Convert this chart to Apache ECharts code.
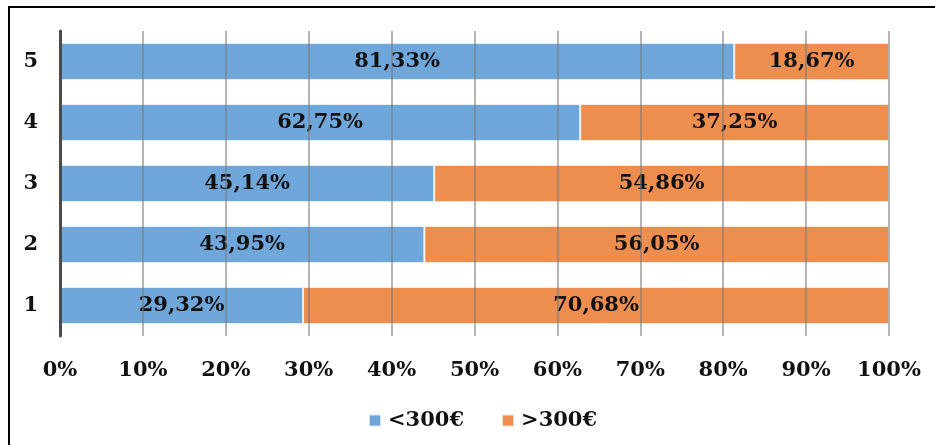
<!DOCTYPE html>
<html>
<head>
<meta charset="utf-8">
<script src="https://cdn.jsdelivr.net/npm/echarts@6/dist/echarts.min.js"></script>
<style>
  html, body { margin: 0; padding: 0; background: #fff; }
  #chart { width: 935px; height: 445px; }
</style>
</head>
<body>
<div id="chart"></div>
<script>
// Categories from bottom (1) to top (5)
var categories = ['1', '2', '3', '4', '5'];
// Share of each group, in percent
var below300 = [29.32, 43.95, 45.14, 62.75, 81.33];
var above300 = [70.68, 56.05, 54.86, 37.25, 18.67];
var seriesNames = ['<300€', '>300€'];
var xTicks = [0, 10, 20, 30, 40, 50, 60, 70, 80, 90, 100];

var FONT = '"DejaVu Serif", serif';

function pct(v) {
  return v.toFixed(2).replace('.', ',') + '%';
}

var chart = echarts.init(document.getElementById('chart'), null, { renderer: 'canvas' });

function barSeries(name, values, color) {
  return {
    name: name,
    type: 'bar',
    stack: 'total',
    barWidth: '61%',
    data: values,
    itemStyle: { color: color, borderColor: 'rgba(255,255,255,0.7)', borderWidth: 1 },
    label: {
      show: true,
      position: 'inside',
      formatter: function (p) { return pct(p.value); },
      color: '#111',
      fontFamily: FONT,
      fontWeight: 'bold',
      fontSize: 21
    }
  };
}

chart.setOption({
  animation: false,
  grid: { left: 60, right: 46, top: 31, bottom: 109, containLabel: false },
  legend: {
    bottom: 9,
    left: 363,
    itemWidth: 12,
    itemHeight: 12,
    itemGap: 37,
    icon: 'rect',
    textStyle: { fontFamily: FONT, fontWeight: 'bold', fontSize: 21, color: '#111', padding: [0, 0, 0, 2] },
    data: seriesNames
  },
  xAxis: {
    type: 'value',
    min: xTicks[0],
    max: xTicks[xTicks.length - 1],
    interval: 10,
    z: 3,
    axisLine: { show: false },
    axisTick: { show: false },
    splitLine: { show: true, lineStyle: { color: 'rgba(120,120,120,0.55)', width: 2 } },
    axisLabel: {
      margin: 24,
      formatter: function (v) { return v + '%'; },
      fontFamily: FONT, fontWeight: 'bold', fontSize: 21, color: '#111'
    }
  },
  yAxis: {
    type: 'category',
    data: categories,
    z: 4,
    axisLine: { show: true, lineStyle: { color: '#4a4a4a', width: 3 } },
    axisTick: { show: false },
    axisLabel: { margin: 22, fontFamily: FONT, fontWeight: 'bold', fontSize: 21, color: '#111' }
  },
  graphic: [{
    type: 'rect',
    shape: { x: 9, y: 7, width: 940, height: 450 },
    style: { fill: 'none', stroke: '#000', lineWidth: 2 },
    silent: true
  }],
  series: [
    barSeries(seriesNames[0], below300, '#6FA7DA'),
    barSeries(seriesNames[1], above300, '#EE8E4E')
  ]
});
</script>
</body>
</html>
